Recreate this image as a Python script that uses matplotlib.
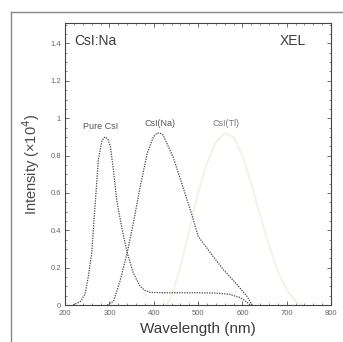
import matplotlib
matplotlib.use("Agg")
import matplotlib.pyplot as plt
from matplotlib.lines import Line2D
from matplotlib.ticker import MultipleLocator

plt.rcParams['font.family'] = ['Liberation Sans', 'DejaVu Sans']

# emission spectra (intensity in units of 1e4)
pure_wl = [218, 235, 245, 252, 260, 268, 275, 283, 290, 296, 302, 309, 317, 329, 340,
           354, 369, 380, 392, 420, 460, 500, 540, 570, 595, 608, 618]
pure_int = [0.0, 0.02, 0.06, 0.15, 0.28, 0.55, 0.78, 0.88, 0.90, 0.89, 0.85, 0.72, 0.55,
            0.40, 0.28, 0.17, 0.10, 0.078, 0.068, 0.066, 0.066, 0.066, 0.064, 0.058,
            0.04, 0.02, 0.0]

na_wl = [295, 309, 324, 340, 354, 369, 385, 399, 407, 414, 421, 444, 466, 489, 500,
         512, 534, 557, 584, 611, 622]
na_int = [0.0, 0.02, 0.13, 0.28, 0.44, 0.63, 0.81, 0.90, 0.92, 0.92, 0.91, 0.79, 0.63,
          0.46, 0.37, 0.33, 0.26, 0.19, 0.12, 0.045, 0.0]

tl_wl = [430, 440, 460, 480, 500, 520, 540, 560, 580, 600, 620, 640, 660, 680, 700, 720, 735]
tl_int = [0.0, 0.05, 0.2, 0.4, 0.6, 0.76, 0.87, 0.92, 0.90, 0.80, 0.65, 0.48, 0.32,
          0.18, 0.08, 0.02, 0.0]

fig = plt.figure(figsize=(3.43, 3.42), dpi=100)
ax = fig.add_axes([0.19, 0.108, 0.775, 0.825])

ink = '#444444'
ax.plot(tl_wl, tl_int, color='#f3f3e8', lw=1.6)
ax.plot(pure_wl, pure_int, color=ink, lw=0.9, ls=(0, (1, 1)))
ax.plot(na_wl, na_int, color=ink, lw=0.9, ls=(0, (1, 1)))

ax.set_xlim(200, 800)
ax.set_ylim(0, 1.51)
ax.xaxis.set_major_locator(MultipleLocator(100))
ax.xaxis.set_minor_locator(MultipleLocator(20))
ax.yaxis.set_minor_locator(MultipleLocator(0.05))
ax.set_yticks([0, 0.2, 0.4, 0.6, 0.8, 1.0, 1.2, 1.4])
ax.set_yticklabels(['0', '0.2', '0.4', '0.6', '0.8', '1', '1.2', '1.4'])
ax.tick_params(which='both', direction='in', top=True, right=True,
               color='#555555', labelsize=5.5, labelcolor='#666666')
ax.tick_params(axis='x', pad=3.5)
ax.tick_params(axis='y', pad=3)
ax.tick_params(which='major', length=3, width=0.6)
ax.tick_params(which='minor', length=1.5, width=0.5)
for s in ax.spines.values():
    s.set_color('#444444')
    s.set_linewidth(0.8)

ax.set_xlabel('Wavelength (nm)', fontsize=11, color='#3a3a3a', labelpad=4)
ax.set_ylabel('Intensity (×10$^4$)', fontsize=10.5, color='#4a4a4a', labelpad=6)

ax.text(0.035, 0.96, 'CsI:Na', transform=ax.transAxes, fontsize=10,
        color='#3a3a3a', va='top', ha='left')
ax.text(0.905, 0.96, 'XEL', transform=ax.transAxes, fontsize=10,
        color='#3a3a3a', va='top', ha='right')
ax.text(280, 0.93, 'Pure CsI', fontsize=6.5, color='#555555', ha='center', va='bottom')
ax.text(413, 0.95, 'CsI(Na)', fontsize=6.5, color='#555555', ha='center', va='bottom')
ax.text(562, 0.95, 'CsI(Tl)', fontsize=6.5, color='#777777', ha='center', va='bottom')

# outer frame, top and left edges only
fig.add_artist(Line2D([11 / 343, 1.0], [1 - 12 / 342] * 2, color='#888888', lw=1.0))
fig.add_artist(Line2D([11 / 343] * 2, [0.0, 1 - 12 / 342], color='#888888', lw=1.0))

fig.savefig('out.png', dpi=100)
